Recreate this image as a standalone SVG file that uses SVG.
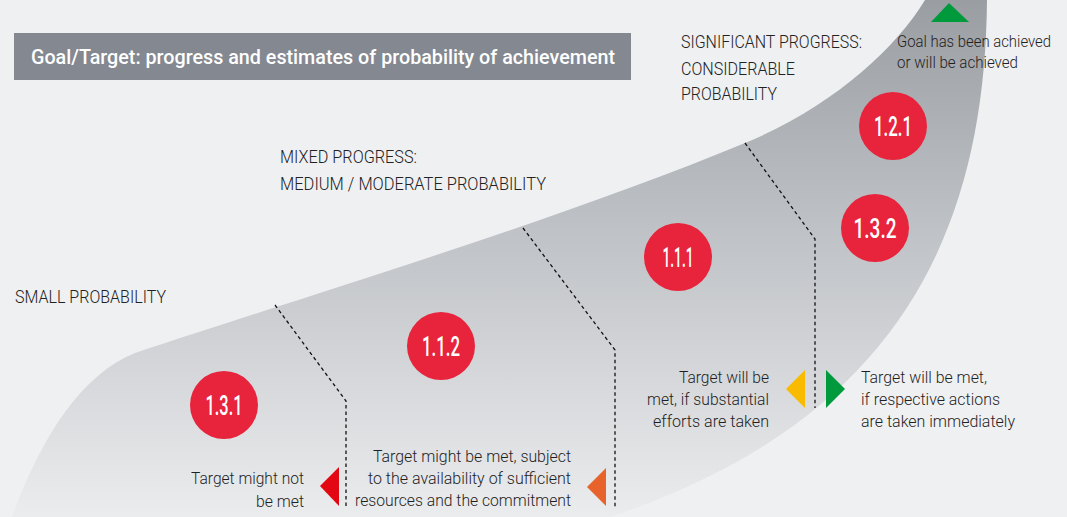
<svg xmlns="http://www.w3.org/2000/svg" width="1067" height="517" viewBox="0 0 1067 517">
<defs>
<linearGradient id="band" gradientUnits="userSpaceOnUse" x1="0" y1="0" x2="0" y2="517">
<stop offset="0" stop-color="#9a9da2"/>
<stop offset="0.45" stop-color="#bfc2c6"/>
<stop offset="1" stop-color="#ebecee"/>
</linearGradient>
<style>
.lbl{font-family:Roboto,"Liberation Sans",sans-serif;font-weight:300;font-size:18px;fill:#222}
.txt{font-family:Roboto,"Liberation Sans",sans-serif;font-weight:300;font-size:17px;fill:#1f1f1f}
.num{font-family:Roboto,"Liberation Sans",sans-serif;font-weight:500;font-size:28px;fill:#fff;text-anchor:middle}
.title{font-family:Roboto,"Liberation Sans",sans-serif;font-weight:500;font-size:20px;fill:#fff}
.dash{fill:none;stroke:#111;stroke-width:1.3;stroke-dasharray:3.5 3}
.dot{fill:#e8233c}
</style>
</defs>
<rect width="1067" height="517" fill="#eff0f2"/>
<path d="M12,517 C40,440 80,375 135,353 C300,298 560,220 745,143 C830,108 895,50 925,0 L987,0 C985,230 900,420 610,517 Z" fill="url(#band)"/>
<g id="title">
<rect x="14" y="33" width="617" height="47" fill="#838891"/>
<text class="title" x="31" y="64" textLength="584" lengthAdjust="spacingAndGlyphs">Goal/Target: progress and estimates of probability of achievement</text>
</g>
<g id="heading-significant">
<text class="lbl" x="681" y="48" textLength="181" lengthAdjust="spacingAndGlyphs">SIGNIFICANT PROGRESS:</text>
<text class="lbl" x="681" y="75" textLength="114" lengthAdjust="spacingAndGlyphs">CONSIDERABLE</text>
<text class="lbl" x="681" y="100" textLength="96" lengthAdjust="spacingAndGlyphs">PROBABILITY</text>
</g>
<g id="heading-mixed">
<text class="lbl" x="280" y="163" textLength="137" lengthAdjust="spacingAndGlyphs">MIXED PROGRESS:</text>
<text class="lbl" x="280" y="190" textLength="266" lengthAdjust="spacingAndGlyphs">MEDIUM / MODERATE PROBABILITY</text>
</g>
<g id="heading-small">
<text class="lbl" x="15" y="303" textLength="151" lengthAdjust="spacingAndGlyphs">SMALL PROBABILITY</text>
</g>
<g id="connectors">
<path class="dash" d="M275,305 L346,401 L346,507"/>
<path class="dash" d="M523,228 L615,350 L615,507"/>
<path class="dash" d="M745,143 L815,239 L815,408"/>
</g>
<g id="legend-achieved">
<polygon points="931,22 949,3 969,22" fill="#009a3d"/>
<text class="txt" x="897" y="47" textLength="154" lengthAdjust="spacingAndGlyphs">Goal has been achieved</text>
<text class="txt" x="897" y="68" textLength="121" lengthAdjust="spacingAndGlyphs">or will be achieved</text>
</g>
<g id="node-1-2-1"><circle class="dot" cx="893" cy="126" r="34"/><text class="num" x="893" y="136" textLength="38" lengthAdjust="spacingAndGlyphs">1.2.1</text></g>
<g id="node-1-3-2"><circle class="dot" cx="875" cy="228" r="34"/><text class="num" x="875" y="238" textLength="43" lengthAdjust="spacingAndGlyphs">1.3.2</text></g>
<g id="node-1-1-1"><circle class="dot" cx="678" cy="257" r="34"/><text class="num" x="678" y="267" textLength="31" lengthAdjust="spacingAndGlyphs">1.1.1</text></g>
<g id="node-1-1-2"><circle class="dot" cx="441" cy="346" r="34"/><text class="num" x="441" y="356" textLength="38" lengthAdjust="spacingAndGlyphs">1.1.2</text></g>
<g id="node-1-3-1"><circle class="dot" cx="224" cy="405" r="34"/><text class="num" x="224" y="415" textLength="37" lengthAdjust="spacingAndGlyphs">1.3.1</text></g>
<g id="legend-not-met">
<polygon points="339,467 320,486 339,506" fill="#e30613"/>
<text class="txt" x="304" y="484" text-anchor="end" textLength="113" lengthAdjust="spacingAndGlyphs">Target might not</text>
<text class="txt" x="304" y="507" text-anchor="end" textLength="48" lengthAdjust="spacingAndGlyphs">be met</text>
</g>
<g id="legend-might-be-met">
<polygon points="606,468 587,487 606,506" fill="#e8632b"/>
<text class="txt" x="571" y="462" text-anchor="end" textLength="198" lengthAdjust="spacingAndGlyphs">Target might be met, subject</text>
<text class="txt" x="571" y="484" text-anchor="end" textLength="203" lengthAdjust="spacingAndGlyphs">to the availability of sufficient</text>
<text class="txt" x="571" y="506" text-anchor="end" textLength="216" lengthAdjust="spacingAndGlyphs">resources and the commitment</text>
</g>
<g id="legend-substantial">
<polygon points="805,370 786,389 805,408" fill="#f9bb00"/>
<text class="txt" x="769" y="383" text-anchor="end" textLength="90" lengthAdjust="spacingAndGlyphs">Target will be</text>
<text class="txt" x="769" y="405" text-anchor="end" textLength="122" lengthAdjust="spacingAndGlyphs">met, if substantial</text>
<text class="txt" x="769" y="427" text-anchor="end" textLength="116" lengthAdjust="spacingAndGlyphs">efforts are taken</text>
</g>
<g id="legend-immediately">
<polygon points="826,370 845,389 826,408" fill="#009a3d"/>
<text class="txt" x="861" y="383" textLength="126" lengthAdjust="spacingAndGlyphs">Target will be met,</text>
<text class="txt" x="861" y="405" textLength="139" lengthAdjust="spacingAndGlyphs">if respective actions</text>
<text class="txt" x="861" y="427" textLength="154" lengthAdjust="spacingAndGlyphs">are taken immediately</text>
</g>
</svg>
